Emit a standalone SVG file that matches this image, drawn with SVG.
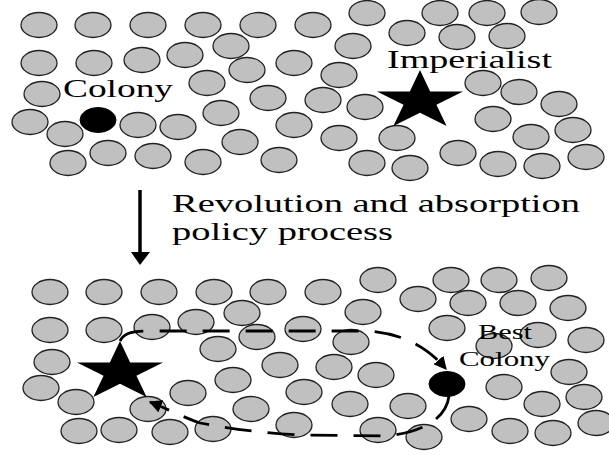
<svg xmlns="http://www.w3.org/2000/svg" width="609" height="455" viewBox="0 0 609 455">
<style>
.c{fill:#c0c0c0;stroke:#222;stroke-width:1.3}
.k{fill:#000;stroke:#000;stroke-width:1}
.t{font-family:"Liberation Serif","Times New Roman",serif;fill:#000}
.d{fill:none;stroke:#000;stroke-width:2.8;stroke-dasharray:27 16}
</style>
<defs>
<path id="star" d="M0,-31 L10.16,-9.58 L43.04,-9.58 L16.44,3.66 L26.6,25.08 L0,11.84 L-26.6,25.08 L-16.44,3.66 L-43.04,-9.58 L-10.16,-9.58 Z"/>
<marker id="ah" viewBox="0 0 10 10" refX="9" refY="5" markerWidth="13" markerHeight="13" markerUnits="userSpaceOnUse" orient="auto">
<path d="M0,0 L10,5 L0,10 Z" fill="#000"/>
</marker>
</defs>
<rect width="609" height="455" fill="#fff"/>
<g id="countries-top">
<ellipse class="c" cx="39" cy="25" rx="18" ry="12.5"/>
<ellipse class="c" cx="93" cy="25" rx="18" ry="12.5"/>
<ellipse class="c" cx="148" cy="25" rx="18" ry="12.5"/>
<ellipse class="c" cx="203" cy="25" rx="18" ry="12.5"/>
<ellipse class="c" cx="258" cy="25" rx="18" ry="12.5"/>
<ellipse class="c" cx="313" cy="25" rx="18" ry="12.5"/>
<ellipse class="c" cx="367" cy="13" rx="18" ry="12.5"/>
<ellipse class="c" cx="440" cy="13" rx="18" ry="12.5"/>
<ellipse class="c" cx="487" cy="13" rx="18" ry="12.5"/>
<ellipse class="c" cx="539" cy="12" rx="18" ry="12.5"/>
<ellipse class="c" cx="231" cy="46" rx="18" ry="12.5"/>
<ellipse class="c" cx="353" cy="46" rx="18" ry="12.5"/>
<ellipse class="c" cx="407" cy="33" rx="18" ry="12.5"/>
<ellipse class="c" cx="457" cy="37" rx="18" ry="12.5"/>
<ellipse class="c" cx="507" cy="36" rx="18" ry="12.5"/>
<ellipse class="c" cx="39" cy="63" rx="18" ry="12.5"/>
<ellipse class="c" cx="94" cy="63" rx="18" ry="12.5"/>
<ellipse class="c" cx="142" cy="60" rx="18" ry="12.5"/>
<ellipse class="c" cx="185" cy="55" rx="18" ry="12.5"/>
<ellipse class="c" cx="247" cy="70" rx="18" ry="12.5"/>
<ellipse class="c" cx="294" cy="63" rx="18" ry="12.5"/>
<ellipse class="c" cx="339" cy="75" rx="18" ry="12.5"/>
<ellipse class="c" cx="42" cy="94" rx="18" ry="12.5"/>
<ellipse class="c" cx="207" cy="83" rx="18" ry="12.5"/>
<ellipse class="c" cx="268" cy="98" rx="18" ry="12.5"/>
<ellipse class="c" cx="323" cy="100" rx="18" ry="12.5"/>
<ellipse class="c" cx="365" cy="107" rx="18" ry="12.5"/>
<ellipse class="c" cx="483" cy="83" rx="18" ry="12.5"/>
<ellipse class="c" cx="519" cy="92" rx="18" ry="12.5"/>
<ellipse class="c" cx="559" cy="104" rx="18" ry="12.5"/>
<ellipse class="c" cx="30" cy="122" rx="18" ry="12.5"/>
<ellipse class="c" cx="65" cy="134" rx="18" ry="12.5"/>
<ellipse class="c" cx="138" cy="125" rx="18" ry="12.5"/>
<ellipse class="c" cx="178" cy="127" rx="18" ry="12.5"/>
<ellipse class="c" cx="221" cy="113" rx="18" ry="12.5"/>
<ellipse class="c" cx="294" cy="125" rx="18" ry="12.5"/>
<ellipse class="c" cx="493" cy="119" rx="18" ry="12.5"/>
<ellipse class="c" cx="573" cy="130" rx="18" ry="12.5"/>
<ellipse class="c" cx="531" cy="137" rx="18" ry="12.5"/>
<ellipse class="c" cx="240" cy="142" rx="18" ry="12.5"/>
<ellipse class="c" cx="339" cy="138" rx="18" ry="12.5"/>
<ellipse class="c" cx="397" cy="138" rx="18" ry="12.5"/>
<ellipse class="c" cx="68" cy="163" rx="18" ry="12.5"/>
<ellipse class="c" cx="108" cy="153" rx="18" ry="12.5"/>
<ellipse class="c" cx="153" cy="156" rx="18" ry="12.5"/>
<ellipse class="c" cx="203" cy="162" rx="18" ry="12.5"/>
<ellipse class="c" cx="279" cy="160" rx="18" ry="12.5"/>
<ellipse class="c" cx="367" cy="163" rx="18" ry="12.5"/>
<ellipse class="c" cx="410" cy="168" rx="18" ry="12.5"/>
<ellipse class="c" cx="458" cy="153" rx="18" ry="12.5"/>
<ellipse class="c" cx="498" cy="164" rx="18" ry="12.5"/>
<ellipse class="c" cx="542" cy="166" rx="18" ry="12.5"/>
<ellipse class="c" cx="586" cy="157" rx="18" ry="12.5"/>
</g>
<g id="colony">
<ellipse class="k" cx="98" cy="120" rx="18" ry="12.5"/>
<text class="t" x="63" y="97" font-size="25" textLength="110" lengthAdjust="spacingAndGlyphs">Colony</text>
</g>
<g id="imperialist">
<use href="#star" x="420" y="101"/>
<text class="t" x="387" y="68" font-size="26" textLength="165" lengthAdjust="spacingAndGlyphs">Imperialist</text>
</g>
<g id="process-label">
<text class="t" font-size="25"><tspan x="172" y="212" textLength="408" lengthAdjust="spacingAndGlyphs">Revolution and absorption</tspan><tspan x="172" y="240" textLength="221" lengthAdjust="spacingAndGlyphs">policy process</tspan></text>
</g>
<g id="countries-bottom">
<ellipse class="c" cx="50" cy="292" rx="18" ry="12.5"/>
<ellipse class="c" cx="104" cy="292" rx="18" ry="12.5"/>
<ellipse class="c" cx="159" cy="292" rx="18" ry="12.5"/>
<ellipse class="c" cx="214" cy="292" rx="18" ry="12.5"/>
<ellipse class="c" cx="268" cy="292" rx="18" ry="12.5"/>
<ellipse class="c" cx="323" cy="292" rx="18" ry="12.5"/>
<ellipse class="c" cx="378" cy="280" rx="18" ry="12.5"/>
<ellipse class="c" cx="451" cy="280" rx="18" ry="12.5"/>
<ellipse class="c" cx="499" cy="280" rx="18" ry="12.5"/>
<ellipse class="c" cx="549" cy="278" rx="18" ry="12.5"/>
<ellipse class="c" cx="242" cy="313" rx="18" ry="12.5"/>
<ellipse class="c" cx="363" cy="312" rx="18" ry="12.5"/>
<ellipse class="c" cx="418" cy="299" rx="18" ry="12.5"/>
<ellipse class="c" cx="468" cy="303" rx="18" ry="12.5"/>
<ellipse class="c" cx="518" cy="303" rx="18" ry="12.5"/>
<ellipse class="c" cx="568" cy="308" rx="18" ry="12.5"/>
<ellipse class="c" cx="50" cy="330" rx="18" ry="12.5"/>
<ellipse class="c" cx="104" cy="330" rx="18" ry="12.5"/>
<ellipse class="c" cx="152" cy="327" rx="18" ry="12.5"/>
<ellipse class="c" cx="196" cy="322" rx="18" ry="12.5"/>
<ellipse class="c" cx="257" cy="337" rx="18" ry="12.5"/>
<ellipse class="c" cx="303" cy="329" rx="18" ry="12.5"/>
<ellipse class="c" cx="351" cy="342" rx="18" ry="12.5"/>
<ellipse class="c" cx="218" cy="349" rx="18" ry="12.5"/>
<ellipse class="c" cx="447" cy="328" rx="18" ry="12.5"/>
<ellipse class="c" cx="494" cy="346" rx="18" ry="12.5"/>
<ellipse class="c" cx="538" cy="335" rx="18" ry="12.5"/>
<ellipse class="c" cx="586" cy="340" rx="18" ry="12.5"/>
<ellipse class="c" cx="52" cy="362" rx="18" ry="12.5"/>
<ellipse class="c" cx="280" cy="365" rx="18" ry="12.5"/>
<ellipse class="c" cx="334" cy="367" rx="18" ry="12.5"/>
<ellipse class="c" cx="376" cy="375" rx="18" ry="12.5"/>
<ellipse class="c" cx="233" cy="380" rx="18" ry="12.5"/>
<ellipse class="c" cx="569" cy="372" rx="18" ry="12.5"/>
<ellipse class="c" cx="504" cy="387" rx="18" ry="12.5"/>
<ellipse class="c" cx="41" cy="388" rx="18" ry="12.5"/>
<ellipse class="c" cx="76" cy="402" rx="18" ry="12.5"/>
<ellipse class="c" cx="148" cy="409" rx="18" ry="12.5"/>
<ellipse class="c" cx="188" cy="393" rx="18" ry="12.5"/>
<ellipse class="c" cx="251" cy="409" rx="18" ry="12.5"/>
<ellipse class="c" cx="304" cy="392" rx="18" ry="12.5"/>
<ellipse class="c" cx="350" cy="404" rx="18" ry="12.5"/>
<ellipse class="c" cx="408" cy="406" rx="18" ry="12.5"/>
<ellipse class="c" cx="542" cy="404" rx="18" ry="12.5"/>
<ellipse class="c" cx="584" cy="397" rx="18" ry="12.5"/>
<ellipse class="c" cx="79" cy="431" rx="18" ry="12.5"/>
<ellipse class="c" cx="119" cy="430" rx="18" ry="12.5"/>
<ellipse class="c" cx="170" cy="432" rx="18" ry="12.5"/>
<ellipse class="c" cx="213" cy="429" rx="18" ry="12.5"/>
<ellipse class="c" cx="294" cy="425" rx="18" ry="12.5"/>
<ellipse class="c" cx="378" cy="430" rx="18" ry="12.5"/>
<ellipse class="c" cx="424" cy="437" rx="18" ry="12.5"/>
<ellipse class="c" cx="469" cy="419" rx="18" ry="12.5"/>
<ellipse class="c" cx="510" cy="431" rx="18" ry="12.5"/>
<ellipse class="c" cx="553" cy="433" rx="18" ry="12.5"/>
<ellipse class="c" cx="596" cy="423" rx="18" ry="12.5"/>
</g>
<g id="imperialist-bottom">
<use href="#star" x="120" y="372"/>
</g>
<g id="best-colony">
<ellipse class="k" cx="447" cy="384" rx="18" ry="12.5"/>
<text class="t" font-size="21"><tspan x="478" y="339" textLength="54" lengthAdjust="spacingAndGlyphs">Best</tspan><tspan x="459" y="366" textLength="91" lengthAdjust="spacingAndGlyphs">Colony</tspan></text>
</g>
<g id="connectors">
<line x1="140" y1="190" x2="140" y2="254" stroke="#000" stroke-width="3.5"/>
<polygon points="131,252 150,252 140,265" fill="#000"/>
<path class="d" d="M120,341 C124,333 132,331 148,331 L368,331 C398,333 425,344 446,369" marker-end="url(#ah)"/>
<path class="d" stroke-dasharray="5 9 22 6 27 16" d="M449,396 C446,420 420,433 385,436 L300,435 C262,433 225,428 200,423 C185,418 170,410 150,402" marker-end="url(#ah)"/>
</g>
</svg>
